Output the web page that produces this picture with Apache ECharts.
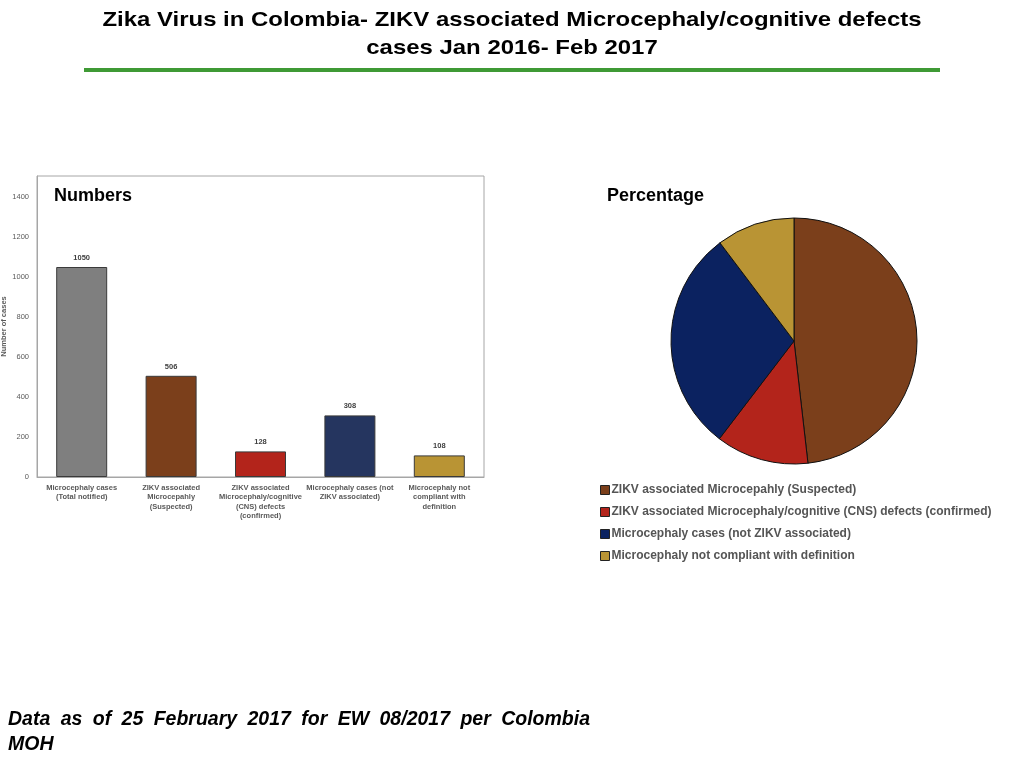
<!DOCTYPE html>
<html>
<head>
<meta charset="utf-8">
<script src="https://cdn.jsdelivr.net/npm/echarts@6/dist/echarts.min.js"></script>
<style>
  html, body { margin: 0; padding: 0; background: #fff; }
  #chart { width: 1024px; height: 768px; }
</style>
</head>
<body>
<div id="chart"></div>
<script type="text/javascript">
    // data
    var barCategories = [
        'Microcephaly cases\n(Total notified)',
        'ZIKV associated\nMicrocepahly\n(Suspected)',
        'ZIKV associated\nMicrocephaly/cognitive\n(CNS) defects\n(confirmed)',
        'Microcephaly cases (not\nZIKV associated)',
        'Microcephaly not\ncompliant with\ndefinition'
    ];
    var barValues = [1050, 506, 128, 308, 108];
    var barColors = ['#7f7f7f', '#7b3f1b', '#b3241b', '#25355f', '#b99434'];

    var pieNames = [
        'ZIKV associated Microcepahly (Suspected)',
        'ZIKV associated Microcephaly/cognitive (CNS) defects (confirmed)',
        'Microcephaly cases (not ZIKV associated)',
        'Microcephaly not compliant with definition'
    ];
    var pieValues = [506, 128, 308, 108];
    var pieColors = ['#7b3f1b', '#b3241b', '#0b2260', '#b99434'];

    var footerText = 'Data as of 25 February 2017 for EW 08/2017 per Colombia';

    var FONT = '"Liberation Sans", Arial, Helvetica, sans-serif';

    // justify the first footer line across 8..590 like the slide
    function footerWords() {
        var ctx = document.createElement('canvas').getContext('2d');
        var font = 'italic bold 19.5px ' + FONT;
        ctx.font = font;
        var words = footerText.split(' ');
        var total = 0;
        words.forEach(function (w) { total += ctx.measureText(w).width; });
        var left = 8, right = 590;
        var gap = (right - left - total) / (words.length - 1);
        var x = left, out = [];
        words.forEach(function (w) {
            out.push({
                type: 'text', x: x, y: 720,
                style: { text: w, font: font, fill: '#000', verticalAlign: 'middle' }
            });
            x += ctx.measureText(w).width + gap;
        });
        out.push({
            type: 'text', x: 8, y: 745,
            style: { text: 'MOH', font: font, fill: '#000', verticalAlign: 'middle' }
        });
        return out;
    }

    var option = {
        backgroundColor: '#fff',
        animation: false,
        textStyle: { fontFamily: FONT },
        title: [
            {
                text: 'Numbers',
                left: 49, top: 182,
                textStyle: { fontSize: 18, fontWeight: 'bold', color: '#000', fontFamily: FONT }
            },
            {
                text: 'Percentage',
                left: 602, top: 182,
                textStyle: { fontSize: 18, fontWeight: 'bold', color: '#000', fontFamily: FONT }
            }
        ],
        graphic: [
            {
                type: 'text', x: 512, y: 20, scaleX: 1.14,
                style: {
                    text: 'Zika Virus in Colombia- ZIKV associated Microcephaly/cognitive defects',
                    font: 'bold 21px ' + FONT, fill: '#000', align: 'center', verticalAlign: 'middle'
                }
            },
            {
                type: 'text', x: 512, y: 48, scaleX: 1.14,
                style: {
                    text: 'cases Jan 2016- Feb 2017',
                    font: 'bold 21px ' + FONT, fill: '#000', align: 'center', verticalAlign: 'middle'
                }
            },
            {
                type: 'rect',
                shape: { x: 84, y: 68, width: 856, height: 4 },
                style: { fill: '#3f9a35' }
            }
        ].concat(footerWords()),
        legend: {
            orient: 'vertical',
            left: 595,
            top: 479,
            itemGap: 10,
            itemWidth: 9,
            itemHeight: 9,
            icon: 'rect',
            data: pieNames,
            itemStyle: { borderColor: '#222', borderWidth: 1 },
            textStyle: { fontSize: 12, fontWeight: 'bold', color: '#555', fontFamily: FONT, padding: [0, 0, 0, -3] }
        },
        grid: {
            left: 37, top: 176, width: 447, height: 301,
            outerBoundsMode: 'none',
            containLabel: false,
            show: true, borderColor: '#a6a6a6', borderWidth: 1
        },
        xAxis: {
            type: 'category',
            data: barCategories,
            axisLine: { lineStyle: { color: '#a6a6a6' } },
            axisTick: { show: false },
            axisLabel: {
                interval: 0, fontSize: 7.5, color: '#595959', fontWeight: 'bold',
                lineHeight: 9.5, margin: 6, fontFamily: FONT
            }
        },
        yAxis: {
            type: 'value',
            min: 0, max: 1505, interval: 200,
            name: 'Number of cases',
            nameLocation: 'middle',
            nameGap: 28,
            nameTextStyle: { fontSize: 7.5, color: '#595959', fontWeight: 'bold', fontFamily: FONT },
            axisLine: { show: true, lineStyle: { color: '#a6a6a6' } },
            axisTick: { show: false },
            splitLine: { show: false },
            axisLabel: {
                fontSize: 7.5, color: '#595959', margin: 8, showMaxLabel: false, fontFamily: FONT,
                formatter: function (v) { return String(v); }
            }
        },
        series: [
            {
                type: 'bar',
                barWidth: 51,
                data: barValues.map(function (v, i) {
                    return { value: v, itemStyle: { color: barColors[i] } };
                }),
                itemStyle: { borderColor: '#3a3a3a', borderWidth: 1 },
                label: {
                    show: true, position: 'top', distance: 5,
                    fontSize: 7.5, fontWeight: 'bold', color: '#404040', fontFamily: FONT
                }
            },
            {
                type: 'pie',
                center: [794, 341],
                radius: 123,
                startAngle: 90,
                clockwise: true,
                label: { show: false },
                labelLine: { show: false },
                emphasis: { disabled: true },
                itemStyle: { borderColor: '#111', borderWidth: 1 },
                data: pieNames.map(function (n, i) {
                    return { name: n, value: pieValues[i], itemStyle: { color: pieColors[i] } };
                })
            }
        ]
    };

    var chart = echarts.init(document.getElementById('chart'));
    chart.setOption(option);
    window.onresize = function () {
        chart.resize();
    };
</script>
</body>
</html>
